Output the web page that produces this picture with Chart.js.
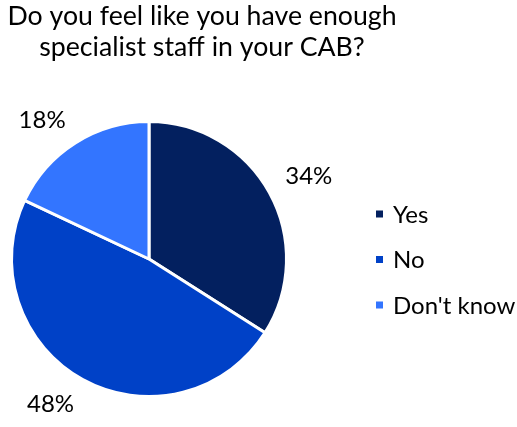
<!DOCTYPE html>
<html>
<head>
<meta charset="utf-8">
<script src="https://cdn.jsdelivr.net/npm/chart.js@4"></script>
<style>
  html,body{margin:0;padding:0;background:#fff;}
  #wrap{width:517px;height:427px;position:relative;}
</style>
</head>
<body>
<div id="wrap"><canvas id="pie"></canvas></div>
<script>
// 데이터
const titleLines = ['Do you feel like you have enough', 'specialist staff in your CAB?'];
const labels = ['Yes', 'No', "Don't know"];
const values = [34, 48, 18];
const colors = ['#03205f', '#0041c7', '#3375ff'];

const FONT = 'Lato, "Open Sans", sans-serif';

// 제목/범례/라벨은 캔버스에 직접 그림
const textPlugin = {
  id: 'textPlugin',
  afterDraw(chart){
    const ctx = chart.ctx;
    ctx.save();
    ctx.fillStyle = '#000';

    // title
    ctx.font = '26.7px ' + FONT;
    ctx.textAlign = 'center';
    ctx.textBaseline = 'alphabetic';
    titleLines.forEach((t,i)=> ctx.fillText(t, 202, 25 + i*31));

    // data labels (outside end, corner toward centre)
    const meta = chart.getDatasetMeta(0);
    const total = values.reduce((a,b)=>a+b,0);
    ctx.font = '24px ' + FONT;
    meta.data.forEach((arc,i)=>{
      const p = arc.getProps(['x','y','startAngle','endAngle','outerRadius'], true);
      const mid = (p.startAngle + p.endAngle)/2;
      const dx = Math.cos(mid), dy = Math.sin(mid);
      const r = p.outerRadius + 18;
      const ax = p.x + dx*r, ay = p.y + dy*r;
      const txt = Math.round(values[i]/total*100) + '%';
      const m = ctx.measureText(txt);
      ctx.textAlign = dx >= 0 ? 'left' : 'right';
      const by = dy < 0 ? ay : ay + m.actualBoundingBoxAscent;
      ctx.fillText(txt, ax, by);
    });

    // legend
    ctx.font = '24px ' + FONT;
    ctx.textAlign = 'left';
    labels.forEach((l,i)=>{
      const base = 222.5 + i*45.5;
      ctx.fillStyle = colors[i];
      ctx.fillRect(376, base - 12, 7, 7);
      ctx.fillStyle = '#000';
      ctx.fillText(l, 393, base);
    });
    ctx.restore();
  }
};

new Chart(document.getElementById('pie'), {
  type: 'pie',
  data: {
    labels,
    datasets: [{
      data: values,
      backgroundColor: colors,
      borderColor: '#fff',
      borderWidth: 3,
      hoverOffset: 0
    }]
  },
  options: {
    responsive: true,
    maintainAspectRatio: false,
    animation: false,
    events: [],
    layout: { padding: { left: 10, right: 229, top: 120, bottom: 29 } },
    plugins: {
      legend: { display: false },
      title: { display: false },
      tooltip: { enabled: false }
    }
  },
  plugins: [textPlugin]
});
</script>
</body>
</html>
